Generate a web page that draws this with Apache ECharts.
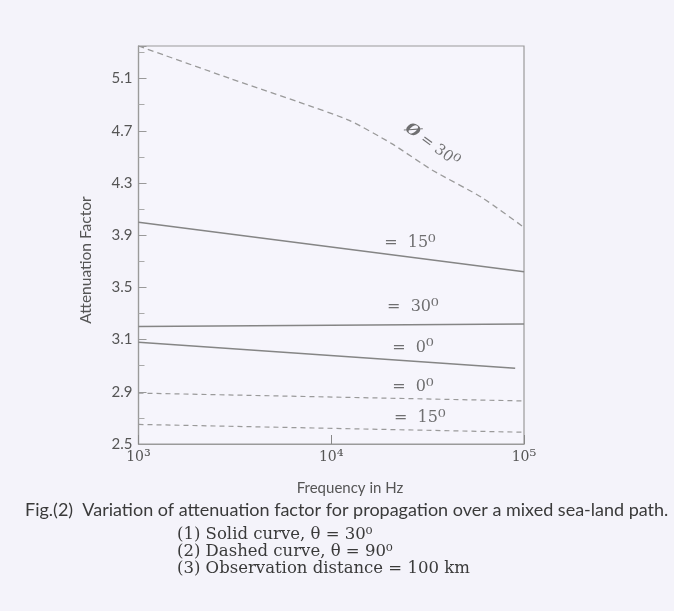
<!DOCTYPE html>
<html>
<head>
<meta charset="utf-8">
<script src="https://cdn.jsdelivr.net/npm/echarts@6/dist/echarts.min.js"></script>
<style>
html,body{margin:0;padding:0;background:#f4f3fa;}
#chart{width:674px;height:611px;}
</style>
</head>
<body>
<div id="chart"></div>
<script>
// Tick labels as printed on the figure (y ticks are equally spaced on the page)
var yTickValues = [2.5, 2.9, 3.1, 3.5, 3.9, 4.3, 4.7, 5.1];
var xTickLabels = {1000: '10{s|³}', 10000: '10{s|⁴}', 100000: '10{s|⁵}'};

// Dashed curve (theta = 90), phi = 30
var dashed30Freq = [1000, 3000, 6800, 12400, 20700, 33300, 60300, 100000];
var dashed30Vals = [5.35, 5.10, 4.92, 4.78, 4.60, 4.40, 4.19, 3.96];
// Solid curves (theta = 30)
var solid15Freq = [1000, 100000];
var solid15Vals = [4.00, 3.62];
var solid30Freq = [1000, 100000];
var solid30Vals = [3.20, 3.22];
var solid0Freq = [1000, 90000];
var solid0Vals = [3.09, 2.99];
// Dashed curves (theta = 90)
var dashed0Freq = [1000, 100000];
var dashed0Vals = [2.89, 2.83];
var dashed15Freq = [1000, 100000];
var dashed15Vals = [2.65, 2.59];

// Curve annotations: frequency, value, text (rich-text superscript)
var annFreq = [33300, 25600, 26500, 26500, 26500, 28800];
var annVals = [4.59, 3.84, 3.35, 3.07, 2.92, 2.70];
var annText = ['{b|Ø} = 30{s|⁰}', '=  15{s|⁰}', '=  30{s|⁰}', '=  0{s|⁰}', '=  0{s|⁰}', '=  15{s|⁰}'];

// Map a value to the printed (non-uniform) axis position by the tick labels
function toAxis(v) {
  var t = yTickValues;
  if (v <= t[0]) return (v - t[0]) / (t[1] - t[0]);
  for (var i = 0; i < t.length - 1; i++) {
    if (v <= t[i + 1]) return i + (v - t[i]) / (t[i + 1] - t[i]);
  }
  var n = t.length - 1;
  return n + (v - t[n]) / (t[n] - t[n - 1]);
}
function pairs(fs, vs) { return fs.map(function (f, i) { return [f, toAxis(vs[i])]; }); }

var lineColor = '#858585';
var dashColor = '#9a9a9a';
var textColor = '#555';
var annColor = '#4d4d4d';
var serif = '"DejaVu Serif", serif';
var sans = 'Lato, sans-serif';

var chart = echarts.init(document.getElementById('chart'));
chart.setOption({
  backgroundColor: '#f4f3fa',
  animation: false,
  grid: { left: 138.5, right: 150, top: 46, bottom: 167, show: true, borderColor: '#9a9a9a', borderWidth: 1.2, backgroundColor: '#f6f5fc' },
  xAxis: {
    type: 'log', logBase: 10, min: 1000, max: 100000,
    axisLine: { lineStyle: { color: '#9a9a9a', width: 1.2 } },
    axisTick: { inside: true, length: 9, lineStyle: { color: '#888' } },
    splitLine: { show: false },
    axisLabel: { color: textColor, fontFamily: serif, fontSize: 14, margin: 5,
      formatter: function (v) { return xTickLabels[Math.round(v)] || ''; },
      rich: { s: { fontSize: 17, fontFamily: serif, color: textColor } } }
  },
  yAxis: {
    type: 'value', min: 0, max: toAxis(5.35), interval: 1,
    axisLine: { show: true, lineStyle: { color: '#9a9a9a', width: 1.2 } },
    axisTick: { show: true, inside: true, length: 8, lineStyle: { color: '#999' } },
    minorTick: { show: true, splitNumber: 2, length: 6, lineStyle: { color: '#aaa' } },
    splitLine: { show: false },
    axisLabel: { color: textColor, fontFamily: sans, fontSize: 15, margin: 6, showMaxLabel: false,
      formatter: function (v) { return (Math.abs(v - Math.round(v)) < 1e-6 && yTickValues[Math.round(v)] !== undefined) ? yTickValues[Math.round(v)].toFixed(1) : ''; } }
  },
  series: [
    { type: 'line', data: pairs(dashed30Freq, dashed30Vals), symbol: 'none', smooth: 0.2,
      lineStyle: { color: dashColor, width: 1.3, type: [6, 4] } },
    { type: 'line', data: pairs(solid15Freq, solid15Vals), symbol: 'none', lineStyle: { color: lineColor, width: 1.5 } },
    { type: 'line', data: pairs(solid30Freq, solid30Vals), symbol: 'none', lineStyle: { color: lineColor, width: 1.5 } },
    { type: 'line', data: pairs(solid0Freq, solid0Vals), symbol: 'none', lineStyle: { color: lineColor, width: 1.5 } },
    { type: 'line', data: pairs(dashed0Freq, dashed0Vals), symbol: 'none', lineStyle: { color: dashColor, width: 1.2, type: [5, 4] } },
    { type: 'line', data: pairs(dashed15Freq, dashed15Vals), symbol: 'none', lineStyle: { color: dashColor, width: 1.2, type: [5, 4] } },
    { type: 'scatter', symbolSize: 0, silent: true,
      data: annFreq.map(function (f, i) {
        return { value: [f, toAxis(annVals[i])],
          label: { show: true, position: 'inside', formatter: annText[i], rotate: i === 0 ? -36 : 0,
            color: annColor, fontFamily: serif, fontSize: i === 0 ? 15 : 16,
            rich: {
              b: { fontFamily: serif, fontSize: 16, fontWeight: 'bold', fontStyle: 'italic', color: annColor },
              s: { fontFamily: serif, fontSize: 19, color: annColor }
            } } };
      }) }
  ],
  graphic: [
    { type: 'text', x: 86, y: 260, rotation: Math.PI / 2, style: { text: 'Attenuation Factor', fill: textColor, font: '15.5px Lato, sans-serif', align: 'center', verticalAlign: 'middle' } },
    { type: 'text', x: 350, y: 488, style: { text: 'Frequency in Hz', fill: textColor, font: '15px Lato, sans-serif', align: 'center', verticalAlign: 'middle' } },
    { type: 'text', x: 25, y: 510, style: { text: 'Fig.(2)  Variation of attenuation factor for propagation over a mixed sea-land path.', fill: '#3a3a3a', font: '18px Lato, sans-serif', verticalAlign: 'middle' } },
    { type: 'text', x: 177, y: 535, style: { text: '(1) Solid curve, θ = 30⁰', fill: '#3a3a3a', font: '16.5px "DejaVu Serif", serif', verticalAlign: 'middle' } },
    { type: 'text', x: 177, y: 552, style: { text: '(2) Dashed curve, θ = 90⁰', fill: '#3a3a3a', font: '16.5px "DejaVu Serif", serif', verticalAlign: 'middle' } },
    { type: 'text', x: 177, y: 569, style: { text: '(3) Observation distance = 100 km', fill: '#3a3a3a', font: '16.5px "DejaVu Serif", serif', verticalAlign: 'middle' } }
  ]
});
</script>
</body>
</html>
